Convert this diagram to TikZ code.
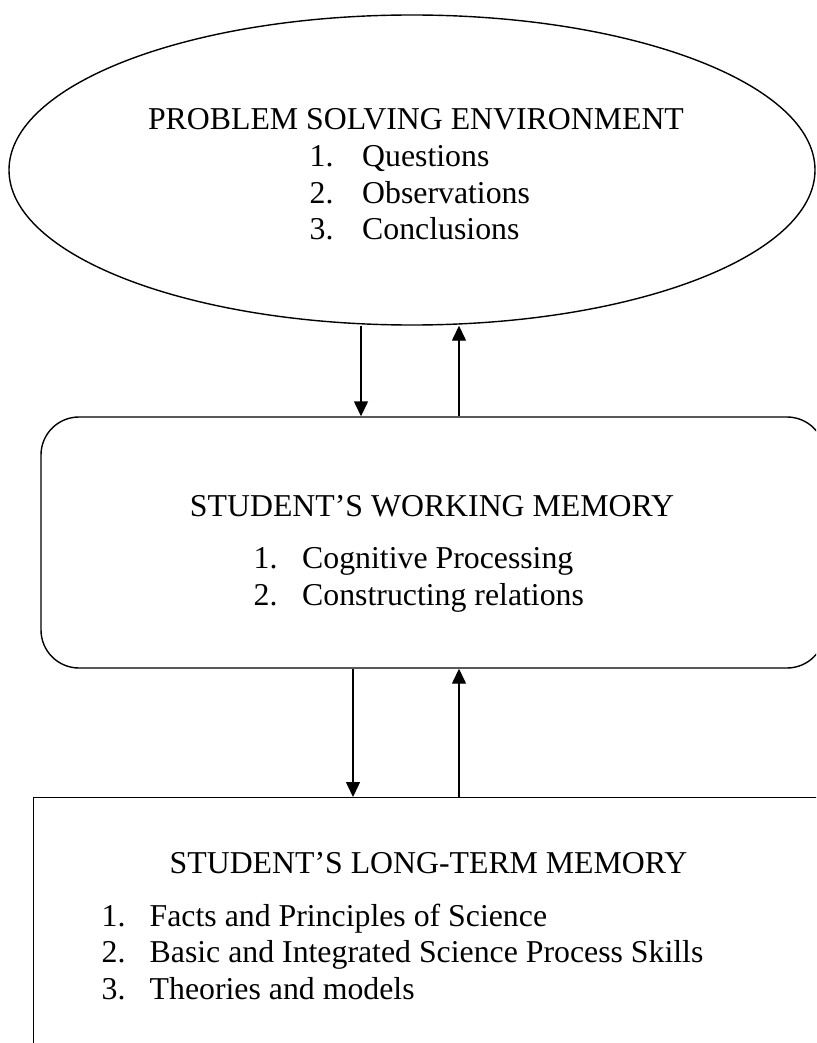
\documentclass[tikz,border=0pt]{standalone}
\usepackage{fontspec}
\setmainfont{Liberation Serif}
\usetikzlibrary{shapes.geometric,arrows.meta}
\begin{document}
\begin{tikzpicture}[x=1pt,y=-1pt,
  outline/.style={draw=black,line width=1.4pt,inner sep=0pt},
  flow/.style={line width=1.4pt,-{Triangle[length=15pt,width=14pt]}},
  label/.style={inner sep=0pt,font=\fontsize{31.8pt}{36.6pt}\selectfont},
]
\useasboundingbox (0,0) rectangle (816,1043);
\clip (0,0) rectangle (816,1043);
\fill[white] (0,0) rectangle (816,1043);

% the three stages
\node[outline,ellipse,minimum width=806pt,minimum height=310pt] (pse) at (412,170) {};
\node[outline,rectangle,rounded corners=38pt,minimum width=784pt,minimum height=251pt] (wm) at (433,542.5) {};
\node[outline,rectangle,minimum width=820pt,minimum height=400pt,anchor=north west] (ltm) at (33,797) {};

% problem solving environment
\node[label,anchor=base] (pse-title) at (416,130) {PROBLEM SOLVING ENVIRONMENT};
\node[label,anchor=base west] (pse-1) at (309.5,166.5) {\makebox[52.5pt][l]{1.}Questions};
\node[label,anchor=base west] (pse-2) at (309.5,203) {\makebox[52.5pt][l]{2.}Observations};
\node[label,anchor=base west] (pse-3) at (309.5,239.5) {\makebox[52.5pt][l]{3.}Conclusions};

% working memory
\node[label,anchor=base] (wm-title) at (432,516) {STUDENT’S WORKING MEMORY};
\node[label,anchor=base west] (wm-1) at (253.5,568) {\makebox[48.5pt][l]{1.}Cognitive Processing};
\node[label,anchor=base west] (wm-2) at (253.5,605) {\makebox[48.5pt][l]{2.}Constructing relations};

% long-term memory
\node[label,anchor=base] (ltm-title) at (428.5,873) {STUDENT’S LONG-TERM MEMORY};
\node[label,anchor=base west] (ltm-1) at (101.5,926) {\makebox[48pt][l]{1.}Facts and Principles of Science};
\node[label,anchor=base west] (ltm-2) at (101.5,962.5) {\makebox[48pt][l]{2.}Basic and Integrated Science Process Skills};
\node[label,anchor=base west] (ltm-3) at (101.5,999.5) {\makebox[48pt][l]{3.}Theories and models};

% connectors between the stages
\coordinate (down1) at (361,0);
\coordinate (down2) at (353,0);
\coordinate (up) at (459,0);
\draw[flow] (pse.south -| down1) -- (wm.north -| down1);
\draw[flow] (wm.north -| up) -- (pse.south -| up);
\draw[flow] (wm.south -| down2) -- (ltm.north -| down2);
\draw[flow] (ltm.north -| up) -- (wm.south -| up);
\end{tikzpicture}
\end{document}
